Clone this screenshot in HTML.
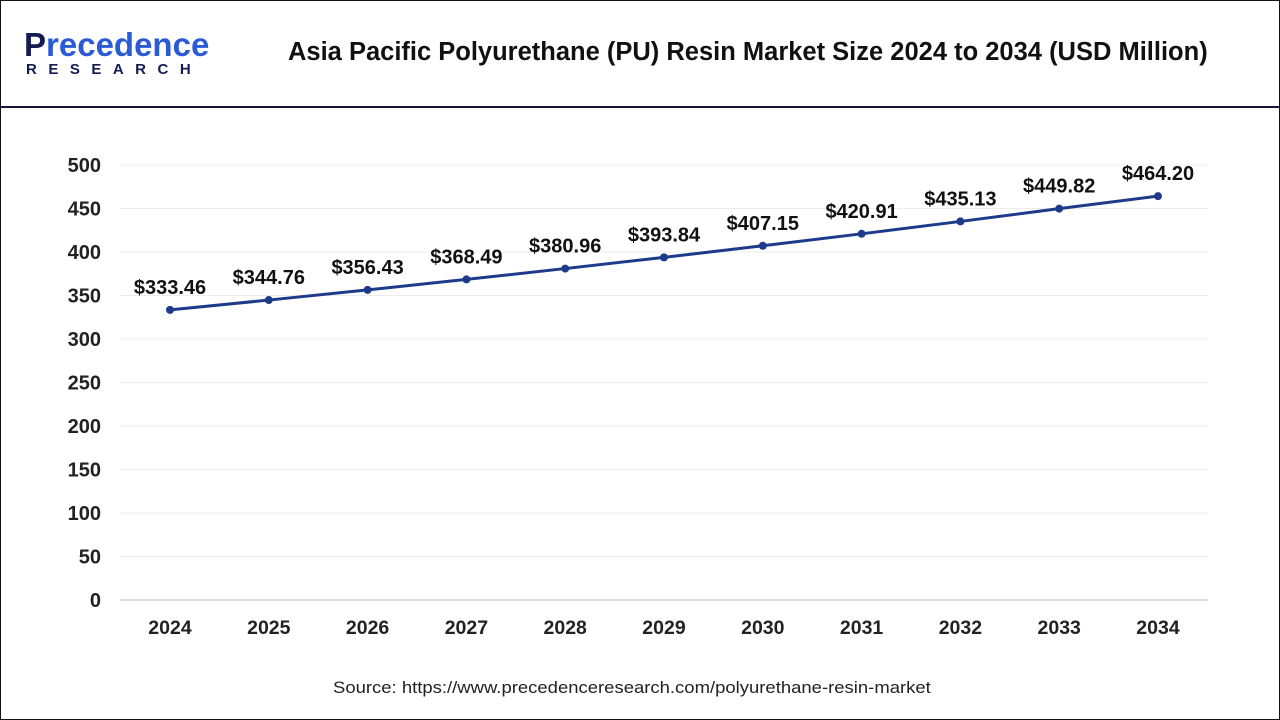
<!DOCTYPE html>
<html><head><meta charset="utf-8"><style>
body{margin:0;width:1280px;height:720px;overflow:hidden;background:#fff;font-family:"Liberation Sans",Arial,sans-serif}
#frame{position:absolute;left:0;top:0;width:1278px;height:718px;border:1px solid #111}
#hdr{position:absolute;left:0;top:106px;width:1280px;height:2px;background:#141433}
</style></head><body>
<div id="frame"></div>
<div id="hdr"></div>
<div style="position:absolute;left:24px;top:28px;">
<div style="font-size:33px;font-weight:bold;color:#1e3a8a;line-height:34px"><span style="color:#141c55">P</span><span style="color:#2a5ad6">recedence</span></div>
<div style="font-size:15px;font-weight:bold;color:#141c55;letter-spacing:11.5px;margin-left:2px;line-height:16px">RESEARCH</div>
</div>
<div style="position:absolute;left:288px;top:38px;font-size:25.5px;font-weight:bold;color:#111;white-space:nowrap">Asia Pacific Polyurethane (PU) Resin Market Size 2024 to 2034 (USD Million)</div>
<svg id="chart" width="1280" height="720" style="position:absolute;left:0;top:0"></svg>
<div style="position:absolute;left:333px;top:679px;font-size:16.5px;color:#222;white-space:nowrap;transform:scaleX(1.12);transform-origin:left">Source: https://www.precedenceresearch.com/polyurethane-resin-market</div>
<script>
const years=["2024","2025","2026","2027","2028","2029","2030","2031","2032","2033","2034"];
const values=[333.46,344.76,356.43,368.49,380.96,393.84,407.15,420.91,435.13,449.82,464.20];
const yTicks=[0,50,100,150,200,250,300,350,400,450,500];
const NS="http://www.w3.org/2000/svg";
const svg=document.getElementById('chart');
const y=v=>600-v*0.87;
const x=i=>170+i*98.8;
function mk(t,a){const e=document.createElementNS(NS,t);for(const k in a)e.setAttribute(k,a[k]);svg.appendChild(e);return e;}
yTicks.forEach(t=>{
 const g=mk('line',{x1:120,x2:1208,y1:y(t),y2:y(t),stroke:t===0?'#bbb':'#ececec','stroke-width':1});
 
 
 const l=mk('text',{x:101,y:y(t)+7,'text-anchor':'end','font-size':20,'font-weight':'bold',fill:'#222'});
 l.textContent=t;
 
 
});
years.forEach((yr,i)=>{
 const l=mk('text',{x:x(i),y:634,'text-anchor':'middle','font-size':19.5,'font-weight':'bold',fill:'#222'});
 l.textContent=yr;
 
 
});
const p=mk('polyline',{points:values.map((v,i)=>x(i)+','+y(v)).join(' '),fill:'none',stroke:'#1e3a8a','stroke-width':3});


values.forEach((v,i)=>{
 const c=mk('circle',{cx:x(i),cy:y(v),r:4,fill:'#1e3a8a'});
 
 
 const t=mk('text',{x:x(i),y:y(v)-16,'text-anchor':'middle','font-size':20,'font-weight':'bold',fill:'#111'});
 t.textContent='$'+v.toFixed(2);
 
 
});
</script>
</body></html>
